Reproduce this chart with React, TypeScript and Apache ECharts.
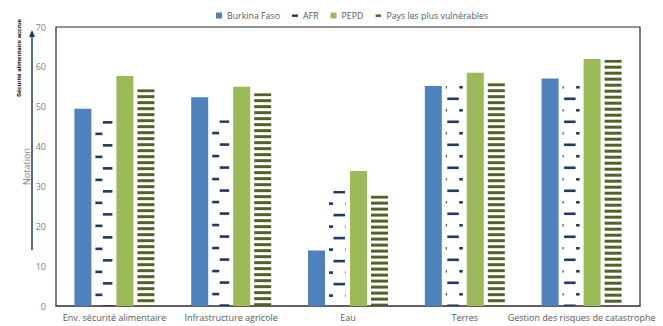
import React, { useEffect, useRef } from 'react';
import * as echarts from 'echarts';

const categories = [
  'Env. sécurité alimentaire',
  'Infrastructure agricole',
  'Eau',
  'Terres',
  'Gestion des risques de catastrophe',
];
const seriesNames = ['Burkina Faso', 'AFR', 'PEPD', 'Pays les plus vulnérables'];
const burkinaFaso = [49.5, 52.4, 13.9, 55.2, 57.1];
const afr = [46.4, 46.6, 28.9, 55.2, 55.2];
const pepd = [57.7, 55.0, 33.9, 58.5, 62.0];
const paysVulnerables = [54.4, 53.4, 27.7, 55.9, 61.8];
const yMin = 0;
const yMax = 70;
const yInterval = 10;
const yAxisName = 'Notation';
const arrowLabel = 'Sécurité alimentaire accrue';

// texture phases per category (styling only)
const afrDashEnd = [7, 7, 4, 1, 1];
const afrTopRow = ['B', 'B', 'B', 'A', 'A'];

const BAR_W = 17;
const GAP = 4;
const GROUP_W = BAR_W * 4 + GAP * 3;
const NAVY = '#1F3864';
const OLIVE = '#4F6228';
const BLUE = '#4F81BD';
const GREEN = '#9BBB59';

const svgUrl = (s: string) => 'data:image/svg+xml;utf8,' + encodeURIComponent(s);
const mod = (a: number, m: number) => ((a % m) + m) % m;

// tile with its content shifted (wrapped) so the userspace pattern lines up with each bar
function makeTile(w: number, h: number, rects: number[][], fill: string, ox: number, oy: number) {
  const sx = mod(ox, w);
  const sy = mod(oy, h);
  let body = '';
  for (const [rx, ry, rw, rh] of rects) {
    for (const dx of [-w, 0]) {
      for (const dy of [-h, 0]) {
        body += `<rect x='${(rx + sx + dx).toFixed(2)}' y='${(ry + sy + dy).toFixed(2)}' width='${rw}' height='${rh}' fill='${fill}'/>`;
      }
    }
  }
  return svgUrl(`<svg xmlns='http://www.w3.org/2000/svg' width='${w}' height='${h}'>${body}</svg>`);
}
const AFR_RECTS = [
  [0, 0, 11.5, 2.6],
  [12, 11.5, 11.5, 2.6],
];
const PAYS_RECTS = [[0, 0, 8, 3]];

const dashIcon = (c: string) =>
  'image://' +
  svgUrl(`<svg xmlns='http://www.w3.org/2000/svg' width='6' height='6'><rect x='0' y='2' width='6' height='2.4' fill='${c}'/></svg>`);

export default function App() {
  const ref = useRef<HTMLDivElement>(null);
  useEffect(() => {
    document.body.style.margin = '0';
    const chart = echarts.init(ref.current!, null, { renderer: 'svg' });
    const font = '"Open Sans", "Noto Sans", sans-serif';
    chart.setOption({
      animation: false,
      textStyle: { fontFamily: font },
      legend: {
        top: 6,
        left: 211,
        itemWidth: 6,
        itemHeight: 6,
        itemGap: 12,
        textStyle: { fontSize: 8.8, color: '#595959', fontFamily: font },
        data: [
          { name: seriesNames[0], icon: 'rect' },
          { name: seriesNames[1], icon: dashIcon(NAVY) },
          { name: seriesNames[2], icon: 'rect' },
          { name: seriesNames[3], icon: dashIcon(OLIVE) },
        ],
      },
      grid: { left: 56, top: 27, right: 23, bottom: 20, show: true, borderColor: '#262626', borderWidth: 1.2, backgroundColor: 'transparent' },
      xAxis: {
        type: 'category',
        data: categories,
        axisTick: { show: false },
        axisLine: { show: true, lineStyle: { color: '#505050', width: 1.6 } },
        axisLabel: { color: '#595959', fontSize: 9, margin: 7, interval: 0, fontFamily: font },
      },
      yAxis: {
        type: 'value',
        min: yMin, max: yMax, interval: yInterval,
        name: yAxisName, nameLocation: 'middle', nameGap: 25, nameMoveOverlap: false,
        nameTextStyle: { color: '#7f7f7f', fontSize: 9, fontFamily: font },
        axisLine: { show: false }, axisTick: { show: false }, splitLine: { show: false },
        axisLabel: { color: '#808080', fontSize: 9, margin: 10, fontFamily: font },
      },
      graphic: [
        { type: 'line', z: -1, shape: { x1: 32, y1: 250, x2: 32, y2: 35 }, style: { stroke: NAVY, lineWidth: 1.5 } },
        { type: 'polygon', shape: { points: [[29, 37], [32, 30], [35, 37]] }, style: { fill: NAVY } },
        { type: 'text', x: 19, y: 58, rotation: Math.PI / 2, style: { text: arrowLabel, font: 'bold 6px "Liberation Sans", Arial, sans-serif', fill: '#000', align: 'center', verticalAlign: 'middle' } },
      ],
      series: [
        { name: seriesNames[0], type: 'bar', data: burkinaFaso, barWidth: BAR_W, barGap: (GAP / BAR_W) * 100 + '%', itemStyle: { color: BLUE } },
        { name: seriesNames[1], type: 'bar', data: afr, barWidth: BAR_W, barGap: (GAP / BAR_W) * 100 + '%', itemStyle: { color: NAVY } },
        { name: seriesNames[2], type: 'bar', data: pepd, barWidth: BAR_W, barGap: (GAP / BAR_W) * 100 + '%', itemStyle: { color: GREEN } },
        { name: seriesNames[3], type: 'bar', data: paysVulnerables, barWidth: BAR_W, barGap: (GAP / BAR_W) * 100 + '%', itemStyle: { color: OLIVE } },
      ],
    });

    const afrData = afr.map((v, i) => {
      const p = chart.convertToPixel({ gridIndex: 0 } as any, [i, v]) as number[];
      const left = p[0] - GROUP_W / 2 + BAR_W + GAP;
      const rowOff = afrTopRow[i] === 'B' ? 11.5 : 0;
      const img = makeTile(24, 23, AFR_RECTS, NAVY, left + afrDashEnd[i] - 11.5, p[1] - rowOff);
      return { value: v, itemStyle: { color: { image: img, imageWidth: 24, imageHeight: 23, repeat: 'repeat' } } };
    });
    const paysData = paysVulnerables.map((v, i) => {
      const p = chart.convertToPixel({ gridIndex: 0 } as any, [i, v]) as number[];
      const img = makeTile(8, 6, PAYS_RECTS, OLIVE, 0, p[1]);
      return { value: v, itemStyle: { color: { image: img, imageWidth: 8, imageHeight: 6, repeat: 'repeat' } } };
    });
    chart.setOption({ series: [{}, { data: afrData }, {}, { data: paysData }] });

    return () => chart.dispose();
  }, []);
  return <div ref={ref} style={{ width: 663, height: 326 }} />;
}
